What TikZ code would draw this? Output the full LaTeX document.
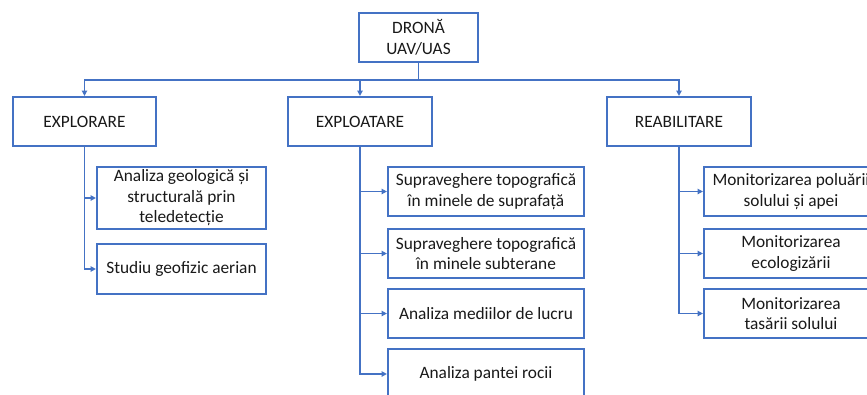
\documentclass[tikz,border=0pt]{standalone}
\usepackage{fontspec}
\setmainfont{Carlito}
\usepackage{xcolor}
\usetikzlibrary{arrows.meta}
\definecolor{boxblue}{HTML}{4472C4}

\tikzset{
  blk/.style={draw=boxblue, line width=1.6pt, fill=white, align=center, inner sep=0pt,
    font=\fontsize{13}{15.4}\selectfont, text=black!90},
  arr/.style={draw=boxblue, line width=1.4pt, -{Triangle[length=4pt,width=4pt]}}
}

\begin{document}
\begin{tikzpicture}[x=0.75pt,y=0.75pt,yscale=-1,xscale=1]
        \useasboundingbox (0,0) rectangle (867,394);
        \clip (0,0) rectangle (867,394);

        %Top node
        \node [blk, minimum width=89.25pt, minimum height=36.75pt] (drona) at (418.5,37.5) {DRONĂ\\UAV/UAS};

        %Second level
        \node [blk, minimum width=107.25pt, minimum height=36.75pt] (explorare) at (84.5,121.5) {EXPLORARE};
        \node [blk, minimum width=108pt, minimum height=36.75pt] (exploatare) at (360,121.5) {EXPLOATARE};
        \node [blk, minimum width=108pt, minimum height=36.75pt] (reabilitare) at (679,121.5) {REABILITARE};

        %Explorare branch
        \node [blk, minimum width=126.75pt, minimum height=46.5pt] (geo) at (181.5,198) {Analiza geologică și\\structurală prin\\teledetecție};
        \node [blk, minimum width=126.75pt, minimum height=37.5pt] (studiu) at (181.5,269) {Studiu geofizic aerian};

        %Exploatare branch
        \node [blk, minimum width=147pt, minimum height=36.75pt] (supra) at (486,191.5) {Supraveghere topografică\\în minele de suprafață};
        \node [blk, minimum width=147pt, minimum height=36.75pt] (subt) at (486,253.5) {Supraveghere topografică\\în minele subterane};
        \node [blk, minimum width=147pt, minimum height=36.75pt] (medii) at (486,313.5) {Analiza mediilor de lucru};
        \node [blk, minimum width=147pt, minimum height=37.5pt] (panta) at (486,374) {Analiza pantei rocii};

        %Reabilitare branch
        \node [blk, minimum width=130.5pt, minimum height=36.75pt] (polu) at (791,191.5) {Monitorizarea poluării\\solului și apei};
        \node [blk, minimum width=130.5pt, minimum height=36.75pt] (ecol) at (791,253.5) {Monitorizarea\\ecologizării};
        \node [blk, minimum width=130.5pt, minimum height=36.75pt] (tasare) at (791,313.5) {Monitorizarea\\tasării solului};

        %Bus under the top node
        \coordinate (bus) at (418.5,80);
        \draw [arr] (drona.south) -- (drona.south |- bus) -| (explorare.north);
        \draw [arr] (drona.south) -- (drona.south |- bus) -| (exploatare.north);
        \draw [arr] (drona.south) -- (drona.south |- bus) -| (reabilitare.north);

        %Branch connectors
        \draw [arr] (explorare.south) |- (geo.west);
        \draw [arr] (explorare.south) |- (studiu.west);
        \draw [arr] (exploatare.south) |- (supra.west);
        \draw [arr] (exploatare.south) |- (subt.west);
        \draw [arr] (exploatare.south) |- (medii.west);
        \draw [arr] (exploatare.south) |- (panta.west);
        \draw [arr] (reabilitare.south) |- (polu.west);
        \draw [arr] (reabilitare.south) |- (ecol.west);
        \draw [arr] (reabilitare.south) |- (tasare.west);

\end{tikzpicture}
\end{document}
